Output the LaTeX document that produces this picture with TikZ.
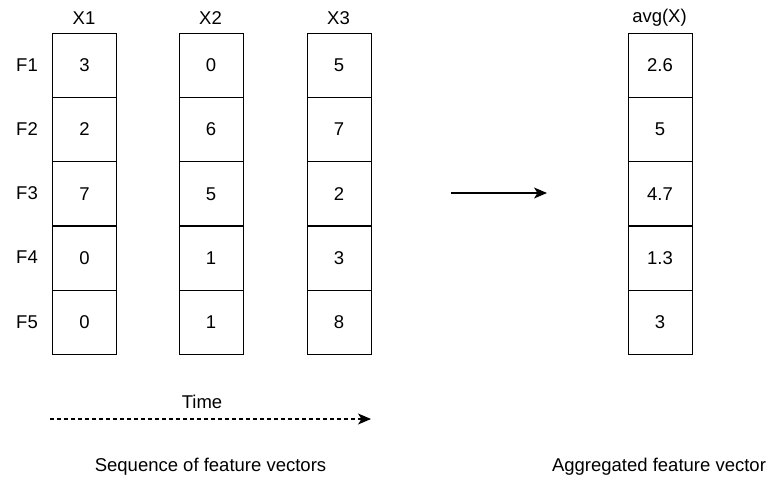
\documentclass[tikz,border=0pt]{standalone}
\usepackage{fontspec}
\setmainfont{Liberation Sans}
\usetikzlibrary{arrows.meta}

\begin{document}
\begin{tikzpicture}[x=1pt,y=-1pt,
  cellbox/.style={draw, line width=1.1pt, minimum width=64pt, minimum height=64.3pt,
    inner sep=0pt, anchor=north west, font=\fontsize{18.5}{20}\selectfont},
  lbl/.style={font=\fontsize{18.5}{20}\selectfont, inner sep=0pt},
  caption/.style={font=\fontsize{18.5}{20}\selectfont, inner sep=0pt},
  flow/.style={line width=1.1pt, -{Stealth[length=13pt, width=11pt, inset=3.5pt]}}]

\useasboundingbox (0,0) rectangle (773,479);

% column vectors: name / left edge / header / entries
\foreach \nm/\lx/\hd/\va/\vb/\vc/\vd/\ve in {
    xa/52/X1/3/2/7/0/0,
    xb/178.5/X2/0/6/5/1/1,
    xc/306.5/X3/5/7/2/3/8,
    av/627.5/avg(X)/2.6/5/4.7/1.3/3}{
  \node[lbl] (\nm-head) at (\lx+32,18) {\hd};
  \foreach \v [count=\i from 0] in {\va,\vb,\vc,\vd,\ve}
    \node[cellbox] (\nm-\i) at (\lx,32.5+64.3*\i) {\v};
}

% feature labels
\foreach \f [count=\i from 0] in {F1,F2,F3,F4,F5}
  \node[lbl] (feat-\i) at (27,64.65+64.3*\i) {\f};

% aggregation arrow
\coordinate (aggstart) at (451,193);
\coordinate (aggend) at (547,193);
\draw[flow] (aggstart) -- (aggend);

% time axis
\coordinate (tstart) at (50,419);
\coordinate (tend) at (371,419);
\draw[flow, dash pattern=on 4pt off 3pt] (tstart) -- (tend);
\node[lbl] (timelbl) at (202,402) {Time};

% captions
\node[caption] (seqcap) at (210.5,467) {Sequence of feature vectors};
\node[caption] (aggcap) at (659,467) {Aggregated feature vector};
\end{tikzpicture}
\end{document}
